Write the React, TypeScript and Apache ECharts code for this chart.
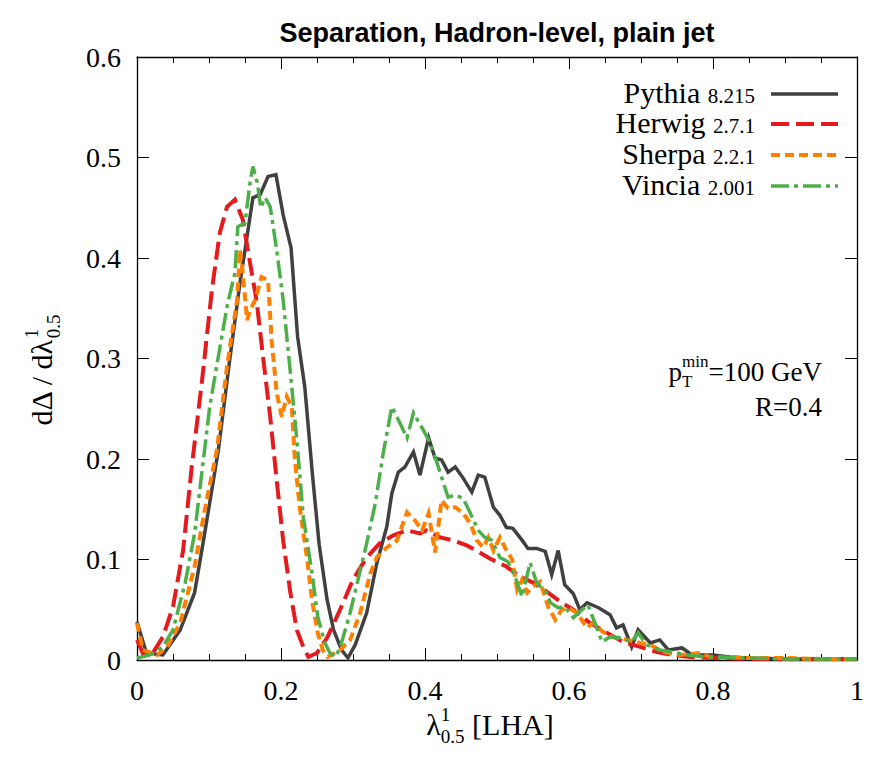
import React, { useEffect, useRef } from 'react';
import * as echarts from 'echarts';

// ---------------- data ----------------
const pythiaX = [0, 0.013, 0.036, 0.06, 0.08, 0.094, 0.113, 0.129, 0.143, 0.161, 0.171, 0.182, 0.193, 0.203, 0.214, 0.223, 0.233, 0.244, 0.253, 0.264, 0.273, 0.284, 0.293, 0.303, 0.319, 0.333, 0.347, 0.354, 0.363, 0.372, 0.384, 0.393, 0.405, 0.414, 0.423, 0.432, 0.442, 0.453, 0.465, 0.474, 0.483, 0.495, 0.504, 0.513, 0.522, 0.535, 0.543, 0.555, 0.567, 0.576, 0.585, 0.594, 0.606, 0.615, 0.625, 0.641, 0.657, 0.666, 0.675, 0.687, 0.696, 0.713, 0.726, 0.738, 0.757, 0.771, 0.8, 0.823, 0.85, 0.9, 0.95, 1.0];
const pythiaY = [0.038, 0.007, 0.005, 0.03, 0.067, 0.126, 0.209, 0.3, 0.375, 0.46, 0.463, 0.481, 0.483, 0.443, 0.41, 0.322, 0.272, 0.182, 0.115, 0.06, 0.03, 0.01, 0.002, 0.015, 0.047, 0.096, 0.133, 0.166, 0.187, 0.192, 0.207, 0.184, 0.221, 0.201, 0.199, 0.187, 0.192, 0.181, 0.167, 0.184, 0.182, 0.152, 0.144, 0.132, 0.131, 0.119, 0.111, 0.111, 0.108, 0.085, 0.109, 0.075, 0.066, 0.05, 0.057, 0.052, 0.045, 0.032, 0.035, 0.013, 0.03, 0.017, 0.02, 0.01, 0.012, 0.005, 0.005, 0.003, 0.002, 0.001, 0.001, 0.001];

const herwigX = [0, 0.008, 0.022, 0.036, 0.05, 0.064, 0.076, 0.09, 0.104, 0.115, 0.125, 0.136, 0.147, 0.157, 0.166, 0.175, 0.185, 0.194, 0.203, 0.213, 0.222, 0.231, 0.238, 0.25, 0.264, 0.282, 0.3, 0.319, 0.337, 0.356, 0.375, 0.393, 0.402, 0.421, 0.439, 0.458, 0.476, 0.49, 0.513, 0.532, 0.55, 0.569, 0.588, 0.606, 0.629, 0.653, 0.675, 0.699, 0.722, 0.744, 0.768, 0.8, 0.85, 0.9, 0.95, 1.0];
const herwigY = [0.02, 0.007, 0.007, 0.023, 0.053, 0.109, 0.192, 0.276, 0.368, 0.425, 0.451, 0.458, 0.438, 0.395, 0.358, 0.302, 0.242, 0.179, 0.119, 0.067, 0.03, 0.013, 0.003, 0.007, 0.022, 0.05, 0.08, 0.102, 0.116, 0.124, 0.129, 0.126, 0.129, 0.122, 0.119, 0.114, 0.107, 0.101, 0.093, 0.083, 0.077, 0.068, 0.058, 0.05, 0.037, 0.027, 0.018, 0.013, 0.008, 0.005, 0.003, 0.002, 0.001, 0.001, 0.001, 0.001];

const sherpaX = [0, 0.008, 0.028, 0.042, 0.06, 0.08, 0.094, 0.111, 0.125, 0.139, 0.143, 0.146, 0.153, 0.157, 0.164, 0.173, 0.182, 0.187, 0.194, 0.201, 0.208, 0.215, 0.219, 0.226, 0.236, 0.243, 0.251, 0.258, 0.265, 0.282, 0.296, 0.31, 0.324, 0.333, 0.347, 0.361, 0.375, 0.386, 0.396, 0.405, 0.414, 0.423, 0.432, 0.442, 0.453, 0.463, 0.472, 0.481, 0.488, 0.495, 0.504, 0.511, 0.521, 0.528, 0.535, 0.542, 0.55, 0.56, 0.571, 0.581, 0.59, 0.599, 0.611, 0.625, 0.633, 0.647, 0.661, 0.681, 0.699, 0.713, 0.731, 0.754, 0.782, 0.796, 0.85, 0.9, 0.95, 1.0];
const sherpaY = [0.037, 0.01, 0.005, 0.013, 0.037, 0.093, 0.149, 0.209, 0.292, 0.358, 0.408, 0.391, 0.338, 0.348, 0.358, 0.381, 0.378, 0.318, 0.266, 0.242, 0.262, 0.252, 0.202, 0.152, 0.102, 0.06, 0.027, 0.01, 0.003, 0.01, 0.02, 0.047, 0.086, 0.102, 0.112, 0.119, 0.147, 0.139, 0.129, 0.146, 0.107, 0.159, 0.151, 0.152, 0.146, 0.136, 0.119, 0.112, 0.122, 0.109, 0.122, 0.112, 0.1, 0.07, 0.08, 0.067, 0.073, 0.078, 0.053, 0.04, 0.05, 0.052, 0.047, 0.032, 0.037, 0.028, 0.023, 0.02, 0.017, 0.015, 0.008, 0.005, 0.007, 0.003, 0.002, 0.002, 0.001, 0.001];

const vinciaX = [0, 0.018, 0.036, 0.05, 0.067, 0.08, 0.09, 0.101, 0.113, 0.126, 0.136, 0.14, 0.15, 0.157, 0.161, 0.167, 0.172, 0.178, 0.185, 0.194, 0.203, 0.213, 0.222, 0.231, 0.243, 0.251, 0.261, 0.268, 0.275, 0.282, 0.296, 0.307, 0.319, 0.331, 0.342, 0.354, 0.365, 0.375, 0.384, 0.396, 0.405, 0.414, 0.423, 0.432, 0.442, 0.453, 0.463, 0.474, 0.483, 0.493, 0.504, 0.515, 0.525, 0.535, 0.546, 0.555, 0.569, 0.574, 0.585, 0.594, 0.606, 0.618, 0.626, 0.636, 0.646, 0.657, 0.671, 0.687, 0.696, 0.708, 0.726, 0.744, 0.764, 0.792, 0.85, 0.9, 0.95, 1.0];
const vinciaY = [0.002, 0.005, 0.013, 0.03, 0.077, 0.126, 0.186, 0.252, 0.302, 0.355, 0.385, 0.431, 0.435, 0.475, 0.491, 0.475, 0.45, 0.46, 0.451, 0.408, 0.358, 0.286, 0.219, 0.142, 0.087, 0.043, 0.017, 0.007, 0.003, 0.012, 0.047, 0.08, 0.116, 0.156, 0.206, 0.252, 0.236, 0.221, 0.246, 0.231, 0.219, 0.202, 0.182, 0.162, 0.164, 0.161, 0.146, 0.129, 0.122, 0.119, 0.102, 0.098, 0.083, 0.063, 0.097, 0.077, 0.067, 0.057, 0.052, 0.053, 0.042, 0.05, 0.055, 0.037, 0.018, 0.023, 0.022, 0.018, 0.027, 0.015, 0.01, 0.008, 0.005, 0.003, 0.002, 0.001, 0.001, 0.001];

const seriesNames = ['Pythia', 'Herwig', 'Sherpa', 'Vincia'];
const seriesVersions = ['8.215', '2.7.1', '2.2.1', '2.001'];
const xTickValues = [0, 0.2, 0.4, 0.6, 0.8, 1];
const yTickValues = [0, 0.1, 0.2, 0.3, 0.4, 0.5, 0.6];

// ---------------- styling ----------------
const COLORS = ['#404040', '#e41a1c', '#ff7f00', '#4daf4a'];
const DASHES: any[] = ['solid', [18, 7], [9, 5], [18, 5, 4, 5]];
const WIDTHS = [3.5, 4, 4, 3.5];
const SERIF = '"Liberation Serif", "DejaVu Serif", serif';

const W = 886;
const H = 767;
const PLOT_L = 137;
const PLOT_R = 857;
const PLOT_T = 57;
const PLOT_B = 660;

let measureCtx: CanvasRenderingContext2D | null = null;
function textWidth(text: string, size: number, weight = 'normal', family = SERIF) {
  if (!measureCtx) measureCtx = document.createElement('canvas').getContext('2d');
  if (!measureCtx) return text.length * size * 0.5;
  measureCtx.font = `${weight} ${size}px ${family}`;
  return measureCtx.measureText(text).width;
}

type Run = { t: string; size: number; dy?: number; stackWith?: { t: string; size: number; dy: number } };

// Lays out a sequence of text runs on a common baseline; returns graphic text elements.
function layoutRuns(runs: Run[], anchorX: number, baseline: number, align: 'left' | 'center' | 'right') {
  const widths = runs.map((r) => {
    const w1 = textWidth(r.t, r.size);
    const w2 = r.stackWith ? textWidth(r.stackWith.t, r.stackWith.size) : 0;
    return Math.max(w1, w2);
  });
  const total = widths.reduce((a, b) => a + b, 0);
  let x = align === 'left' ? anchorX : align === 'center' ? anchorX - total / 2 : anchorX - total;
  const els: any[] = [];
  runs.forEach((r, i) => {
    const mk = (t: string, size: number, dy: number) => ({
      type: 'text',
      x,
      y: baseline - 0.35 * size + dy,
      silent: true,
      style: {
        text: t,
        fill: '#000',
        font: `${size}px ${SERIF}`,
        textAlign: 'left',
        textVerticalAlign: 'middle',
        verticalAlign: 'middle',
      },
    });
    els.push(mk(r.t, r.size, r.dy || 0));
    if (r.stackWith) els.push(mk(r.stackWith.t, r.stackWith.size, r.stackWith.dy));
    x += widths[i];
  });
  return els;
}

function zip(xs: number[], ys: number[]) {
  return xs.map((x, i) => [x, ys[i]]);
}

export default function App() {
  const ref = useRef<HTMLDivElement>(null);

  useEffect(() => {
    document.body.style.margin = '0';
    if (!ref.current) return;
    const chart = echarts.init(ref.current, undefined, { renderer: 'svg' });

    const datasets = [zip(pythiaX, pythiaY), zip(herwigX, herwigY), zip(sherpaX, sherpaY), zip(vinciaX, vinciaY)];

    const series = datasets.map((d, i) => ({
      name: seriesNames[i],
      type: 'line',
      data: d,
      showSymbol: false,
      symbol: 'none',
      xAxisIndex: 0,
      yAxisIndex: 0,
      z: 2 + i,
      lineStyle: { color: COLORS[i], width: WIDTHS[i], type: DASHES[i], cap: 'butt', join: 'miter' },
      clip: true,
    }));

    const baseAxis = {
      type: 'value',
      axisLine: { show: true, onZero: false, lineStyle: { color: '#000', width: 1.3 } },
      splitLine: { show: false },
    };

    const xAxisCommon = {
      ...baseAxis,
      min: 0,
      max: 1,
      interval: 0.2,
      minorTick: { show: true, splitNumber: 4, length: 6, lineStyle: { color: '#000', width: 1 } },
      minorSplitLine: { show: false },
      axisTick: { show: true, inside: true, length: 12, lineStyle: { color: '#000', width: 1 } },
    };
    const yAxisCommon = {
      ...baseAxis,
      min: 0,
      max: 0.6,
      interval: 0.1,
      axisTick: { show: true, inside: true, length: 12, lineStyle: { color: '#000', width: 1 } },
    };

    const legendEls: any[] = [];
    const legendY = [94, 124, 155, 186];
    seriesNames.forEach((n, i) => {
      legendEls.push(
        ...layoutRuns(
          [
            { t: n + ' ', size: 30 },
            { t: seriesVersions[i], size: 21 },
          ],
          755,
          legendY[i] + 9,
          'right'
        )
      );
      legendEls.push({
        type: 'line',
        silent: true,
        shape: { x1: 771, y1: legendY[i], x2: 838, y2: legendY[i] },
        style: { stroke: COLORS[i], lineWidth: WIDTHS[i], lineDash: DASHES[i] === 'solid' ? null : DASHES[i] },
      });
    });

    const ptEls = layoutRuns(
      [
        { t: 'p', size: 27 },
        { t: 'T', size: 17, dy: 6, stackWith: { t: 'min', size: 17, dy: -14 } },
        { t: '=100 GeV', size: 27 },
      ],
      822,
      381,
      'right'
    );
    const rEls = layoutRuns([{ t: 'R=0.4', size: 27 }], 822, 416, 'right');

    const xNameEls = layoutRuns(
      [
        { t: 'λ', size: 30 },
        { t: '0.5', size: 19, dy: 8, stackWith: { t: '1', size: 19, dy: -14 } },
        { t: ' [LHA]', size: 30 },
      ],
      490,
      735,
      'center'
    );

    const yNameChildren = layoutRuns(
      [
        { t: 'dΔ / dλ', size: 30 },
        { t: '0.5', size: 19, dy: 8, stackWith: { t: '1', size: 19, dy: -14 } },
      ],
      0,
      10,
      'center'
    );

    chart.setOption({
      animation: false,
      backgroundColor: '#fff',
      grid: { left: PLOT_L, right: W - PLOT_R, top: PLOT_T, bottom: H - PLOT_B, containLabel: false },
      xAxis: [
        {
          ...xAxisCommon,
          position: 'bottom',
          axisLabel: {
            show: true,
            color: '#000',
            fontFamily: SERIF,
            fontSize: 28,
            margin: 16,
            customValues: xTickValues,
            formatter: (v: number) => String(+v.toFixed(2)),
          },
        },
        { ...xAxisCommon, position: 'top', axisLabel: { show: false } },
      ],
      yAxis: [
        {
          ...yAxisCommon,
          position: 'left',
          axisLabel: {
            show: true,
            color: '#000',
            fontFamily: SERIF,
            fontSize: 28,
            margin: 16,
            customValues: yTickValues,
            formatter: (v: number) => String(+v.toFixed(2)),
          },
        },
        { ...yAxisCommon, position: 'right', axisLabel: { show: false } },
      ],
      series,
      graphic: [
        {
          type: 'text',
          x: 497,
          y: 33,
          silent: true,
          style: {
            text: 'Separation, Hadron-level, plain jet',
            fill: '#000',
            font: 'bold 27px "Liberation Sans", Arial, sans-serif',
            textAlign: 'center',
            textVerticalAlign: 'middle',
            verticalAlign: 'middle',
          },
        },
        ...legendEls,
        ...ptEls,
        ...rEls,
        ...xNameEls,
        {
          type: 'group',
          x: 42,
          y: 370,
          rotation: Math.PI / 2,
          children: yNameChildren,
        },
      ],
    });

    return () => {
      chart.dispose();
    };
  }, []);

  return <div ref={ref} style={{ width: W, height: H }} />;
}
